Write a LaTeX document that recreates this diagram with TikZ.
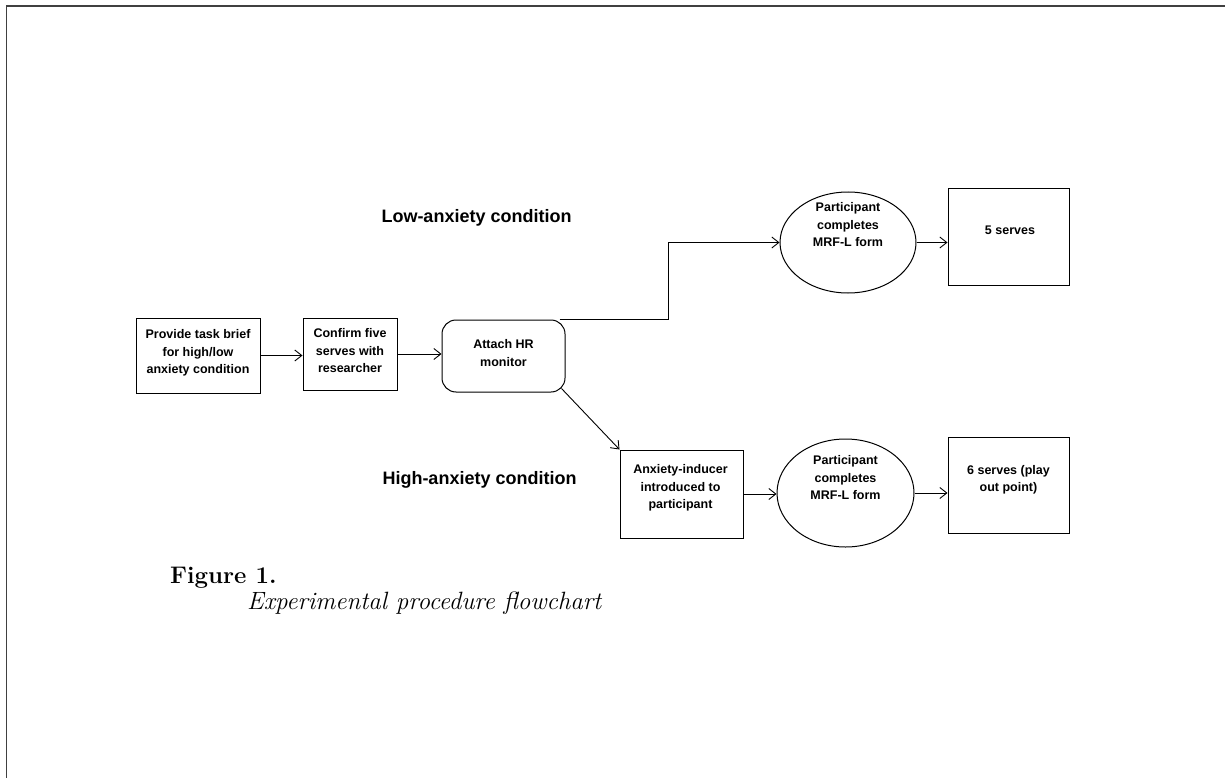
\documentclass[tikz,border=0pt]{standalone}
\usepackage{fontspec}
\newfontfamily\arialf{Liberation Sans}
\usetikzlibrary{arrows.meta,shapes.geometric,calc}
\begin{document}
\begin{tikzpicture}[x=1pt,y=-1pt,
  shp/.style={draw=black, line width=1pt, inner sep=0pt},
  txt/.style={font=\arialf\bfseries\fontsize{12.5}{17.5}\selectfont, align=center, inner sep=0pt},
  lbl/.style={font=\arialf\bfseries\fontsize{18}{20}\selectfont, inner sep=0pt},
  arr/.style={-{Straight Barb[length=7pt,width=11pt]}, line width=0.9pt},
  frame/.style={line width=1.8pt, draw=black!75}
]
\useasboundingbox (0,0) rectangle (1225,778);
\draw[frame] (1225,6) -- (6.5,6) -- (6.5,778);

% shapes
\node[shp, minimum width=124pt, minimum height=75pt] (b1) at (198,355.5) {};
\node[txt] (b1t) at (198,353) {Provide task brief\\for high/low\\anxiety condition};
\node[shp, minimum width=94pt, minimum height=72pt] (b2) at (350,354) {};
\node[txt] (b2t) at (350,351) {Confirm five\\serves with\\researcher};
\node[shp, rounded corners=14pt, minimum width=123pt, minimum height=72pt] (b3) at (503.5,356) {};
\node[txt] (b3t) at (503.5,353) {Attach HR\\monitor};
\node[shp, ellipse, minimum width=136pt, minimum height=101pt] (e1) at (848,242.5) {};
\node[txt] (e1t) at (848,225) {Participant\\completes\\MRF-L form};
\node[shp, minimum width=121pt, minimum height=96pt] (b4) at (1008.5,237) {};
\node[txt] (b4t) at (1010,230) {5 serves};
\node[shp, minimum width=123pt, minimum height=88pt] (b5) at (681.5,494) {};
\node[txt] (b5t) at (680.5,488) {Anxiety-inducer\\introduced to\\participant};
\node[shp, ellipse, minimum width=137pt, minimum height=108pt] (e2) at (845.5,493) {};
\node[txt] (e2t) at (845.5,478) {Participant\\completes\\MRF-L form};
\node[shp, minimum width=121pt, minimum height=96pt] (b6) at (1008.5,485) {};
\node[txt] (b6t) at (1008.5,480) {6 serves (play\\out point)};

% labels
\node[lbl] (low) at (476.5,218) {Low-anxiety condition};
\node[lbl] (high) at (479.5,480) {High-anxiety condition};

% caption
\node[font=\bfseries\fontsize{24}{28}\selectfont, anchor=base west, inner sep=0pt] (fig) at (170,583) {Figure 1.};
\node[font=\itshape\fontsize{25}{29}\selectfont, anchor=base west, inner sep=0pt] (cap) at (247,609) {Experimental procedure flowchart};

% connectors
\coordinate (jx) at (668,318);
\coordinate (s1) at ([xshift=-6pt]b3.north east);
\coordinate (s2) at ([shift={(-4pt,4pt)}]b3.south east);
\draw[arr] (b1.east) -- (b1.east -| b2.west);
\draw[arr] (b2.east) -- (b2.east -| b3.west);
\draw[arr] (s1) -- (s1 -| jx) |- (e1.west);
\draw[arr] (e1.east) -- (e1.east -| b4.west);
\draw[arr] (s2) -- (b5.north west);
\draw[arr] (b5.east) -- (b5.east -| e2.west);
\draw[arr] (e2.east) -- (e2.east -| b6.west);
\end{tikzpicture}
\end{document}
